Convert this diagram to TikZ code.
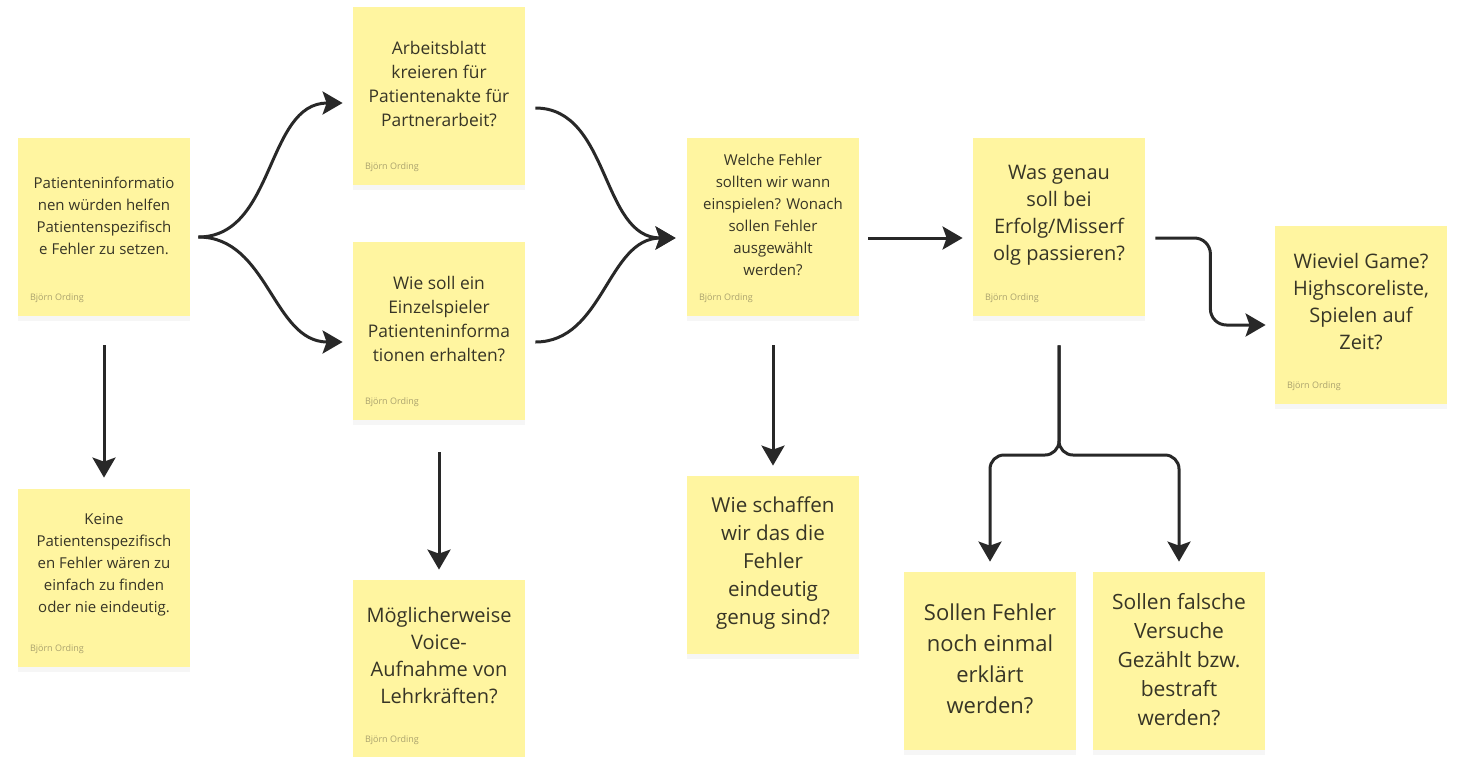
\documentclass[tikz,border=0pt]{standalone}
\usepackage{fontspec}
\setmainfont{Open Sans}
\usepackage{tikz}
\usetikzlibrary{arrows.meta,calc,shadows}
\definecolor{noteyellow}{RGB}{255,245,160}
\definecolor{inkgray}{RGB}{55,53,38}
\definecolor{authorgray}{RGB}{170,162,110}
\definecolor{linkblack}{RGB}{40,40,40}

\begin{document}
\begin{tikzpicture}[x=0.5pt, y=-0.5pt,
  note/.style={fill=noteyellow, minimum width=86pt, minimum height=89pt, inner sep=0pt,
    drop shadow={opacity=0.07, shadow xshift=0pt, shadow yshift=-2.5pt}},
  txt/.style={text=inkgray, align=center, inner sep=0pt},
  txts/.style={txt, font=\fontsize{7.5}{11}\selectfont},
  txtm/.style={txt, font=\fontsize{8.7}{12}\selectfont},
  txtl/.style={txt, font=\fontsize{10}{13.5}\selectfont},
  author/.style={text=authorgray, font=\fontsize{4.5}{5}\selectfont, anchor=base west, inner sep=0pt},
  link/.style={draw=linkblack, line width=1.5pt, -{Stealth[length=10pt, width=11.5pt, inset=2pt]}}]
\useasboundingbox[fill=white] (0,0) rectangle (1460,756);

% Notes
\node[note] (p1) at (104,227) {};
\node[txts] (p1t) at (104,216) {Patienteninformatio\\nen würden helfen\\Patientenspezifisch\\e Fehler zu setzen.};
\node[author] (p1a) at ($(p1.south west)+(12,-16)$) {Björn Ording};

\node[note] (arb) at (439,96) {};
\node[txtm] (arbt) at (439,84) {Arbeitsblatt\\kreieren für\\Patientenakte für\\Partnerarbeit?};
\node[author] (arba) at ($(arb.south west)+(12,-16)$) {Björn Ording};

\node[note] (wie) at (439,331) {};
\node[txtm] (wiet) at (439,319) {Wie soll ein\\Einzelspieler\\Patienteninforma\\tionen erhalten?};
\node[author] (wiea) at ($(wie.south west)+(12,-16)$) {Björn Ording};

\node[note] (welche) at (773,227) {};
\node[txts] (welchet) at (773,215) {Welche Fehler\\sollten wir wann\\einspielen? Wonach\\sollen Fehler\\ausgewählt\\werden?};
\node[author] (welchea) at ($(welche.south west)+(12,-16)$) {Björn Ording};

\node[note] (was) at (1059,227) {};
\node[txtl] (wast) at (1059,215) {Was genau\\soll bei\\Erfolg/Misserf\\olg passieren?};
\node[author] (wasa) at ($(was.south west)+(12,-16)$) {Björn Ording};

\node[note] (wieviel) at (1361,315) {};
\node[txtl] (wievielt) at (1361,302) {Wieviel Game?\\Highscoreliste,\\Spielen auf\\Zeit?};
\node[author] (wieviela) at ($(wieviel.south west)+(12,-16)$) {Björn Ording};

% Lower row
\node[note] (keine) at (104,578) {};
\node[txts] (keinet) at (104,565) {Keine\\Patientenspezifisch\\en Fehler wären zu\\einfach zu finden\\oder nie eindeutig.};
\node[author] (keinea) at ($(keine.south west)+(12,-16)$) {Björn Ording};

\node[note] (moeg) at (439,669) {};
\node[txtl] (moegt) at (439,656) {Möglicherweise\\Voice-\\Aufnahme von\\Lehrkräften?};
\node[author] (moega) at ($(moeg.south west)+(12,-16)$) {Björn Ording};

\node[note] (schaffen) at (773,565) {};
\node[txtl, font=\fontsize{10.3}{14}\selectfont] (schaffent) at (773,563) {Wie schaffen\\wir das die\\Fehler\\eindeutig\\genug sind?};

\node[note] (sollen1) at (990,661) {};
\node[txt, font=\fontsize{11}{15.5}\selectfont] (sollen1t) at (990,659) {Sollen Fehler\\noch einmal\\erklärt\\werden?};

\node[note] (sollen2) at (1179,661) {};
\node[txt, font=\fontsize{10.5}{14.5}\selectfont] (sollen2t) at (1179,660) {Sollen falsche\\Versuche\\Gezählt bzw.\\bestraft\\werden?};

% Main flow
\draw[link] ([xshift=4pt,yshift=-5pt]p1.east) to[out=0,in=180] ([xshift=-5pt,yshift=-3.5pt]arb.west);
\draw[link] ([xshift=4pt,yshift=-5pt]p1.east) to[out=0,in=180] ([xshift=-5pt,yshift=-5.5pt]wie.west);
\draw[link] ([xshift=5pt,yshift=-6pt]arb.east) to[out=0,in=180] ([xshift=-5.5pt,yshift=-5.5pt]welche.west);
\draw[link] ([xshift=5pt,yshift=-5.5pt]wie.east) to[out=0,in=180] ([xshift=-5.5pt,yshift=-5.5pt]welche.west);
\draw[link] ([xshift=4.5pt,yshift=-5.5pt]welche.east) -- ([xshift=-5pt,yshift=-5.5pt]was.west);
\draw[link, rounded corners=8pt] ([xshift=5pt,yshift=-5.5pt]was.east) -- ++(55,0) |- ([xshift=-4.5pt,yshift=-5pt]wieviel.west);

% Down arrows
\draw[link] ([yshift=-14.5pt]p1.south) -- ([yshift=5.5pt]keine.north);
\draw[link] ([yshift=-16pt]wie.south) -- ([yshift=5pt]moeg.north);
\draw[link] ([yshift=-14.5pt]welche.south) -- ([yshift=5pt]schaffen.north);

% Fork
\coordinate (fork) at (1059,455);
\draw[link, rounded corners=7pt] ([yshift=-14.5pt]was.south) |- (fork -| sollen1.north) -- ([yshift=5pt]sollen1.north);
\draw[link, rounded corners=7pt] ([yshift=-14.5pt]was.south) |- (fork -| sollen2.north) -- ([yshift=5pt]sollen2.north);
\end{tikzpicture}
\end{document}
